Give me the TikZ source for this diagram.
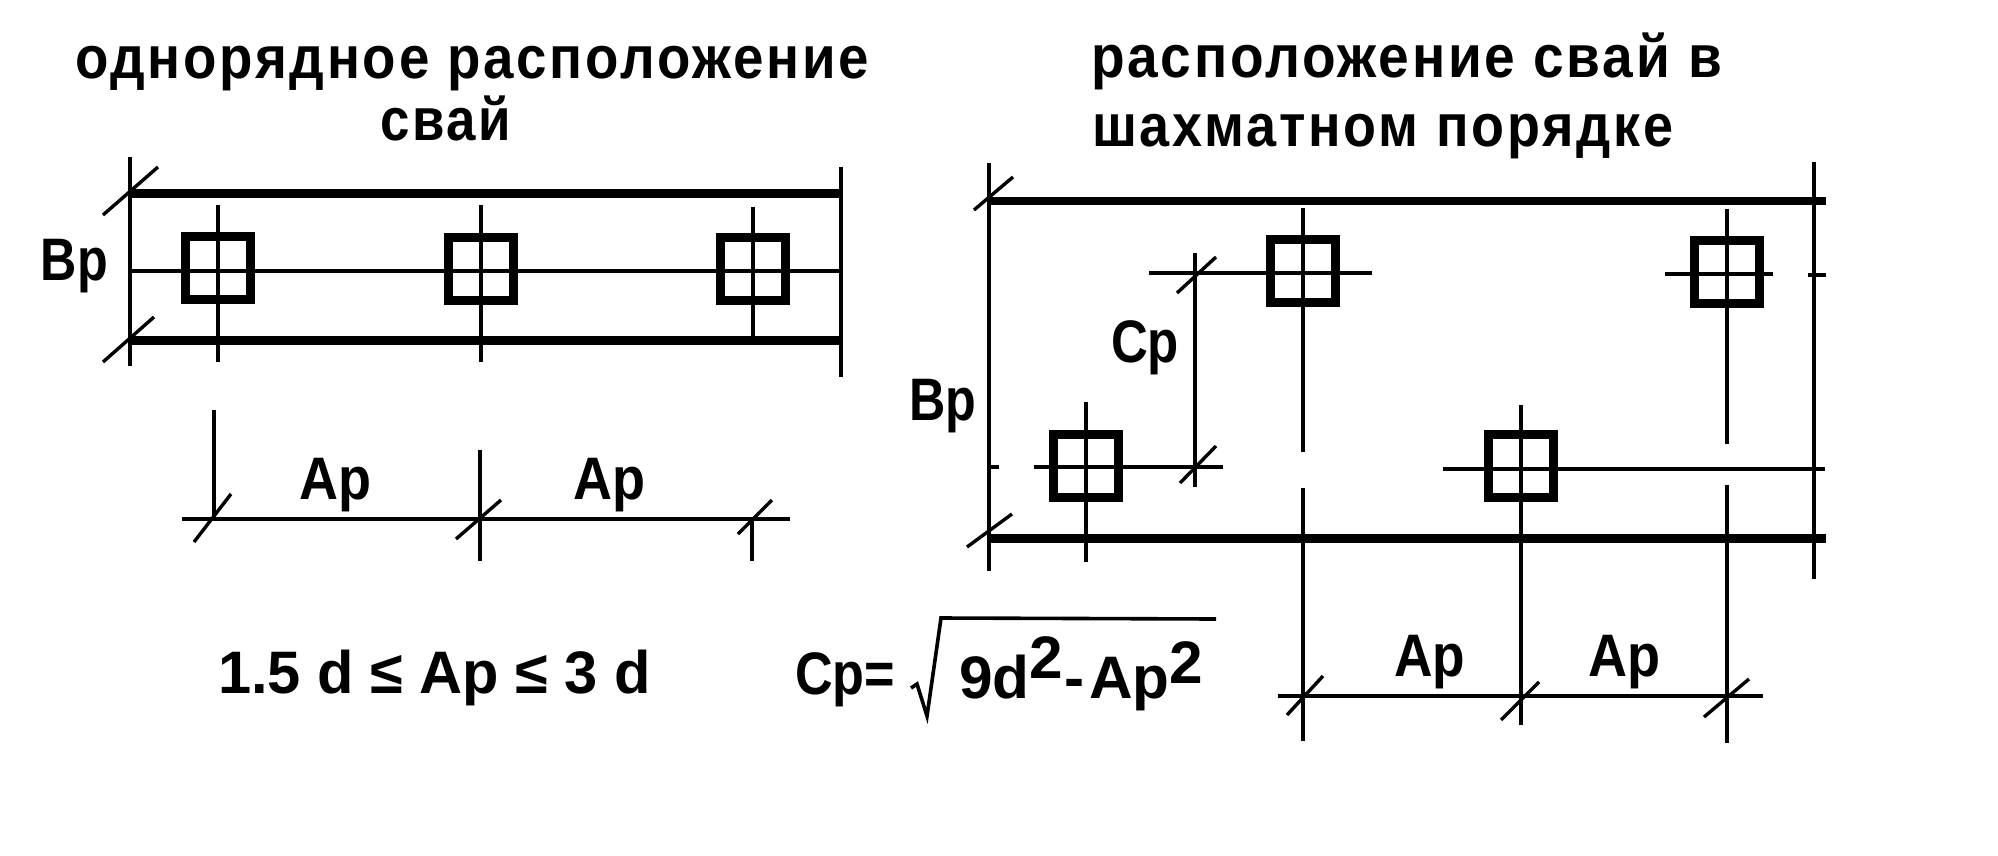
\documentclass[tikz,border=0pt]{standalone}
\usepackage{fontspec}
\usepackage{graphicx}
\setmainfont{Liberation Sans}[BoldFont={Liberation Sans Bold}]
\newcommand{\fitw}[2]{\resizebox{#1pt}{\height}{#2}}
\newcommand{\bigtxt}{\bfseries\fontsize{60}{62}\selectfont}
\tikzset{
  txt/.style={anchor=base west,inner sep=0pt,outer sep=0pt,text=black,font=\bigtxt},
  heavy/.style={line width=9pt,black},
  axisl/.style={line width=4.2pt,black},
  thinl/.style={line width=3.6pt,black},
  tick/.style={line width=3.4pt,black},
  pilebox/.style={draw=black,line width=8.5pt,rectangle,minimum width=65pt,minimum height=63pt,inner sep=0pt,outer sep=0pt}
}
\begin{document}
\begin{tikzpicture}[x=1pt,y=-1pt]
\useasboundingbox[fill=white] (0,0) rectangle (1998,855);
% titles
\node[txt] (t1) at (75,78) {\fitw{794}{\addfontfeature{LetterSpace=5}однорядное расположение}};
\node[txt] (t2) at (380,140) {\fitw{131}{\addfontfeature{LetterSpace=5}свай}};
\node[txt] (t3) at (1091,77) {\fitw{631}{\addfontfeature{LetterSpace=5}расположение свай в}};
\node[txt] (t4) at (1092,146) {\fitw{581}{\addfontfeature{LetterSpace=5}шахматном порядке}};
% ---------- left plan
\coordinate (la) at (130,193);
\coordinate (lb) at (841,193);
\coordinate (lc) at (130,340);
\coordinate (ld) at (841,340);
\draw[axisl] (la |- 0,157) -- (lc |- 0,366);
\draw[axisl] (lb |- 0,167) -- (ld |- 0,377);
\draw[heavy] (la) -- (lb);
\draw[heavy] (lc) -- (ld);
\draw[tick] (103,215) -- (158,167);
\draw[tick] (103,362) -- (154,317);
\node[pilebox] (p1) at (218,268) {};
\node[pilebox] (p2) at (481,269) {};
\node[pilebox] (p3) at (753,269) {};
\draw[axisl] (130,271) -- (841,271);
\draw[axisl] (p1.center |- 0,205) -- (p1.center |- 0,362);
\draw[axisl] (p2.center |- 0,205) -- (p2.center |- 0,362);
\draw[axisl] (p3.center |- 0,207) -- (p3.center |- 0,338);
\node[txt] (bp1) at (41,280) {\fitw{67}{Вр}};
% left dimension
\coordinate (d1) at (214,519);
\coordinate (d2) at (480,519);
\coordinate (d3) at (752,519);
\draw[axisl] (182,519) -- (790,519);
\draw[axisl] (d1 |- 0,410) -- (d1);
\draw[axisl] (d2 |- 0,450) -- (d2 |- 0,561);
\draw[axisl] (d3) -- (d3 |- 0,561);
\draw[tick] (194,542) -- (231,494);
\draw[tick] (456,539) -- (501,500);
\draw[tick] (738,534) -- (772,500);
\node[txt] (ap1) at (299,499) {\fitw{72}{Ар}};
\node[txt] (ap2) at (573,499) {\fitw{72}{Ар}};
\node[txt] (f1) at (218,693) {\fitw{433}{1.5 d ≤ Ар ≤ 3 d}};
% ---------- right plan
\coordinate (ra) at (989,201);
\coordinate (rb) at (1826,201);
\coordinate (rc) at (989,538);
\coordinate (rd) at (1826,538);
\draw[thinl] (ra |- 0,163) -- (rc |- 0,571);
\draw[thinl] (1814,162) -- (1814,579);
\draw[line width=7.5pt] (ra) -- (rb);
\draw[heavy] (rc) -- (rd);
\draw[tick] (974,210) -- (1013,177);
\draw[tick] (967,547) -- (1012,514);
\node[pilebox] (q1) at (1303,271) {};
\node[pilebox] (q2) at (1727,272) {};
\node[pilebox] (q3) at (1086,466) {};
\node[pilebox] (q4) at (1521,466) {};
\draw[thinl] (q1.center |- 0,208) -- (q1.center |- 0,452);
\draw[thinl] (q1.center |- 0,488) -- (q1.center |- 0,741);
\draw[thinl] (q2.center |- 0,209) -- (q2.center |- 0,444);
\draw[thinl] (q2.center |- 0,485) -- (q2.center |- 0,743);
\draw[axisl] (q3.center |- 0,402) -- (q3.center |- 0,562);
\draw[thinl] (q4.center |- 0,405) -- (q4.center |- 0,725);
\draw[axisl] (1149,273) -- (1372,273);
\draw[axisl] (1665,274) -- (1773,274);
\draw[axisl] (1808,275) -- (1826,275);
\draw[axisl] (1034,467) -- (1223,467);
\draw[axisl] (989,467) -- (999,467);
\draw[axisl] (1443,469) -- (1825,469);
% Cp dimension
\coordinate (c1) at (1195,273);
\coordinate (c2) at (1195,467);
\draw[thinl] (c1 |- 0,253) -- (c2 |- 0,487);
\draw[tick] (1177,293) -- (1216,257);
\draw[tick] (1180,483) -- (1216,446);
\node[txt] (cp) at (1111,362) {\fitw{68}{Ср}};
\node[txt] (bp2) at (909,420) {\fitw{67}{Вр}};
% right dimension
\draw[axisl] (1278,696) -- (1763,696);
\draw[tick] (1287,715) -- (1323,676);
\draw[tick] (1501,720) -- (1539,682);
\draw[tick] (1704,717) -- (1749,679);
\node[txt] (ap3) at (1394,676) {\fitw{71}{Ар}};
\node[txt] (ap4) at (1588,676) {\fitw{72}{Ар}};
% formula
\node[txt] (f2) at (795,694) {\fitw{100}{Ср=}};
\draw[line width=3.6pt,line join=miter] (911,688) -- (917,684) -- (927,716) -- (941,618) -- (1216,619);
\node[txt] (f3) at (959,698) {\fitw{244}{9d\raisebox{20pt}{2}\kern2pt-\kern4pt Ар\raisebox{15pt}{2}}};
\end{tikzpicture}
\end{document}
